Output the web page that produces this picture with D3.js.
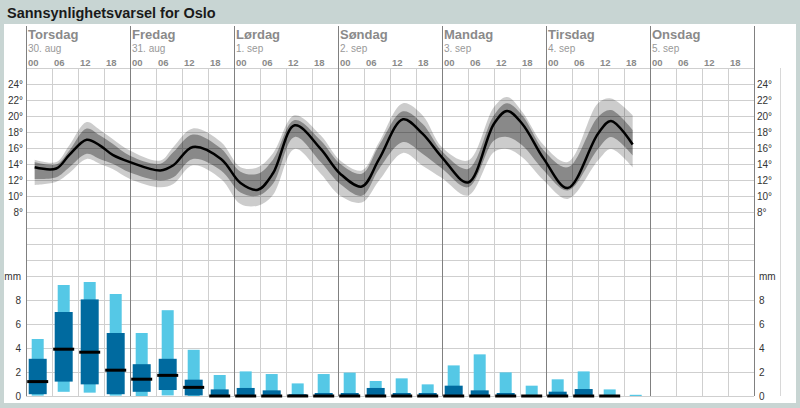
<!DOCTYPE html>
<html><head><meta charset="utf-8">
<script src="https://cdn.jsdelivr.net/npm/d3@7"></script>
<style>
body{margin:0;background:#c8d5d3;}
svg{display:block;font-family:"Liberation Sans",Arial,Helvetica,sans-serif;}
</style>
</head><body>
<svg id="chart" width="800" height="408"></svg>
<script>
// ---------- data ----------
const chartTitle = "Sannsynlighetsvarsel for Oslo";
const dayNames = ["Torsdag","Fredag","Lørdag","Søndag","Mandag","Tirsdag","Onsdag"];
const dayDates = ["30. aug","31. aug","1. sep","2. sep","3. sep","4. sep","5. sep"];
const hourLabels = ["00","06","12","18"];
const tempTicks = [8,10,12,14,16,18,20,22,24];
const precipTicks = [0,2,4,6,8];

// hours from Thursday 00:00
const tempHours  = [2,7,10,14,17,20,24,31,34,38.5,45,49.5,53.5,57,62,68,72.5,77.5,81.5,87,91.5,96,102,108,111,114.5,119.5,125,132,135,140];
const tempMedian = [13.65,13.5,15.2,17.1,16.4,15.2,14.3,13.25,13.9,16.2,14.7,11.7,10.85,12.9,18.9,15.95,12.85,11.25,14.7,19.65,17.85,14.9,11.75,19.1,20.7,19.1,14.7,11.05,17.85,19.45,16.5];
const tempHigh80 = [14.3,14.0,15.75,18.5,17.65,16.6,15.1,14.1,15.55,17.75,16.0,13.1,12.85,14.6,19.55,17.0,14.1,12.85,16.4,20.65,19.1,15.65,13.45,20.15,21.65,20.15,15.75,13.65,19.95,20.8,18.3];
const tempLow80  = [12.2,12.4,13.65,15.35,14.7,14.1,13.0,12.0,12.4,14.7,13.25,10.5,10.1,11.6,17.45,14.3,11.55,10.1,13.45,16.8,15.35,13.5,11.15,17.0,17.45,16.4,13.25,10.75,15.95,17.45,15.15];
const tempHigh95 = [14.6,14.3,16.4,19.3,18.35,17.2,15.75,14.5,16.2,18.5,16.8,13.65,13.65,15.4,20.15,17.65,14.5,13.25,16.8,21.65,20.15,16.15,14.5,21.2,22.45,20.6,16.4,14.3,21.65,22.25,20.15];
const tempLow95  = [11.45,11.85,12.95,14.7,14.1,13.45,12.2,11.15,11.55,13.9,12.2,9.05,8.85,10.2,15.95,12.85,10.1,9.25,12.0,15.45,13.85,12.3,10.1,15.55,15.95,14.9,12.0,9.7,14.5,15.95,13.65];

// precipitation per 6-hour period (mm), starting Thursday 00-06
const precipHigh95 = [4.75,9.25,9.5,8.5,5.25,7.15,3.85,1.75,2.05,1.83,1.05,1.83,1.95,1.25,1.47,0.97,2.55,3.47,1.97,0.86,1.39,2.05,0.55,0.1];
const precipHigh80 = [3.1,7.0,8.05,5.25,2.65,3.1,1.36,0.55,0.67,0.47,0.15,0.25,0.25,0.67,0.25,0.25,0.86,0.47,0.25,0.05,0.36,0.58,0.02,0];
const precipLow80  = [0.15,1.2,0.97,0.15,0.35,0.5,0.05,0,0,0,0,0,0,0,0,0,0,0,0,0,0,0,0,0];
const precipLow95  = [0.03,0.35,0.28,0.03,0,0.05,0,0,0,0,0,0,0,0,0,0,0,0,0,0,0,0,0,0];
const precipMedian = [1.2,3.9,3.65,2.15,1.4,1.72,0.72,0,0,0,0,0,0,0,0,0,0,0,0,0,0,0,0,null];

// ---------- drawing ----------
const svg = d3.select("#chart");
const W = 800, H = 408;
const x  = d3.scaleLinear().domain([0,168]).range([26,754]);
const yT = d3.scaleLinear().domain([0,26]).range([276.5,68.5]);
const yP = d3.scaleLinear().domain([0,10]).range([396,276]);

// background & title
svg.append("rect").attr("width",W).attr("height",H).attr("fill","#c8d5d3");
svg.append("rect").attr("x",4).attr("y",24).attr("width",792).attr("height",379).attr("fill","#ffffff");
svg.append("text").attr("x",7).attr("y",18).attr("font-size",14.5).attr("font-weight","bold")
   .attr("fill","#1a1a1a").text(chartTitle);

const grid = svg.append("g").attr("shape-rendering","crispEdges");
// horizontal grid lines
const tempGrid = d3.range(0,28,2);
grid.selectAll("line.ht").data(tempGrid).join("line")
  .attr("x1",x(0)).attr("x2",x(168))
  .attr("y1",d=>Math.floor(yT(d))+0.5).attr("y2",d=>Math.floor(yT(d))+0.5)
  .attr("stroke","#cfcfcf");
grid.selectAll("line.hp").data(precipTicks).join("line")
  .attr("x1",x(0)).attr("x2",x(168))
  .attr("y1",d=>Math.floor(yP(d))+0.5).attr("y2",d=>Math.floor(yP(d))+0.5)
  .attr("stroke","#cfcfcf");
// 6-hour vertical lines
const sixHours = d3.range(0,169,6).filter(h=>h%24!==0);
grid.selectAll("line.v6").data(sixHours).join("line")
  .attr("x1",d=>Math.round(x(d))+0.5).attr("x2",d=>Math.round(x(d))+0.5)
  .attr("y1",68).attr("y2",396).attr("stroke","#cfcfcf");
// extra right frame line
grid.append("line").attr("x1",780.5).attr("x2",780.5).attr("y1",68).attr("y2",396).attr("stroke","#d8d8d8");
// day lines
const dayHours = d3.range(0,169,24);
grid.selectAll("line.vd").data(dayHours).join("line")
  .attr("x1",d=>Math.round(x(d))+0.5).attr("x2",d=>Math.round(x(d))+0.5)
  .attr("y1",26).attr("y2",396).attr("stroke","#808080");

// day headers
const hdr = svg.append("g");
hdr.selectAll("text.day").data(dayNames).join("text")
  .attr("x",(d,i)=>x(i*24)+2).attr("y",39).attr("font-size",13).attr("font-weight","bold")
  .attr("fill","#8a8a8a").text(d=>d);
hdr.selectAll("text.date").data(dayDates).join("text")
  .attr("x",(d,i)=>x(i*24)+2).attr("y",52).attr("font-size",10)
  .attr("fill","#999999").text(d=>d);
const hourTicks = d3.range(0,168,6);
hdr.selectAll("text.hr").data(hourTicks).join("text")
  .attr("x",d=>x(d)+2).attr("y",66).attr("font-size",9.5).attr("font-weight","bold")
  .attr("font-family","'Liberation Sans Narrow','Arial Narrow','Liberation Sans',sans-serif")
  .attr("fill","#8a8a8a").text(d=>hourLabels[(d/6)%4]);

// temperature bands & line
const tIdx = d3.range(tempHours.length);
const curve = d3.curveCatmullRom.alpha(0.5);
const area95 = d3.area().curve(curve).x(i=>x(tempHours[i])).y0(i=>yT(tempLow95[i])).y1(i=>yT(tempHigh95[i]));
const area80 = d3.area().curve(curve).x(i=>x(tempHours[i])).y0(i=>yT(tempLow80[i])).y1(i=>yT(tempHigh80[i]));
const lineMed = d3.line().curve(curve).x(i=>x(tempHours[i])).y(i=>yT(tempMedian[i]));
svg.append("path").attr("d",area95(tIdx)).attr("fill","rgba(0,0,0,0.2)");
svg.append("path").attr("d",area80(tIdx)).attr("fill","rgba(0,0,0,0.33)");
svg.append("path").attr("d",lineMed(tIdx)).attr("fill","none").attr("stroke","#000").attr("stroke-width",2.5);

// precipitation bars
const pIdx = d3.range(precipHigh95.length);
const cx = i => x(i*6) + 11.7;
const bars = svg.append("g");
bars.selectAll("rect.p95").data(pIdx).join("rect")
  .attr("x",i=>cx(i)-6).attr("width",12)
  .attr("y",i=>yP(precipHigh95[i])).attr("height",i=>Math.max(0.8,yP(precipLow95[i])-yP(precipHigh95[i])))
  .attr("fill","#55c8e6");
bars.selectAll("rect.p80").data(pIdx.filter(i=>precipHigh80[i]>0)).join("rect")
  .attr("x",i=>cx(i)-9).attr("width",18)
  .attr("y",i=>yP(precipHigh80[i])).attr("height",i=>yP(precipLow80[i])-yP(precipHigh80[i]))
  .attr("fill","#006a9f");
bars.selectAll("line.med").data(pIdx.filter(i=>precipMedian[i]!==null)).join("line")
  .attr("x1",i=>cx(i)-10.5).attr("x2",i=>cx(i)+10.5)
  .attr("y1",i=>yP(precipMedian[i])).attr("y2",i=>yP(precipMedian[i]))
  .attr("stroke","#000").attr("stroke-width",3);

// axes
function styleAxis(g){ g.select(".domain").remove(); g.selectAll(".tick line").remove();
  g.selectAll("text").attr("font-size",10).attr("fill","#333").attr("font-family","'Liberation Sans',Arial,sans-serif"); }
svg.append("g").attr("transform","translate(23,0)")
  .call(d3.axisLeft(yT).tickValues(tempTicks).tickSize(0).tickPadding(0).tickFormat(d=>d+"°")).call(styleAxis);
svg.append("g").attr("transform","translate(757,0)")
  .call(d3.axisRight(yT).tickValues(tempTicks).tickSize(0).tickPadding(0).tickFormat(d=>d+"°")).call(styleAxis);
svg.append("g").attr("transform","translate(21,0)")
  .call(d3.axisLeft(yP).tickValues(precipTicks.concat([10])).tickSize(0).tickPadding(0).tickFormat(d=>d===10?"mm":d)).call(styleAxis);
svg.append("g").attr("transform","translate(759,0)")
  .call(d3.axisRight(yP).tickValues(precipTicks.concat([10])).tickSize(0).tickPadding(0).tickFormat(d=>d===10?"mm":d)).call(styleAxis);
</script>
</body></html>
